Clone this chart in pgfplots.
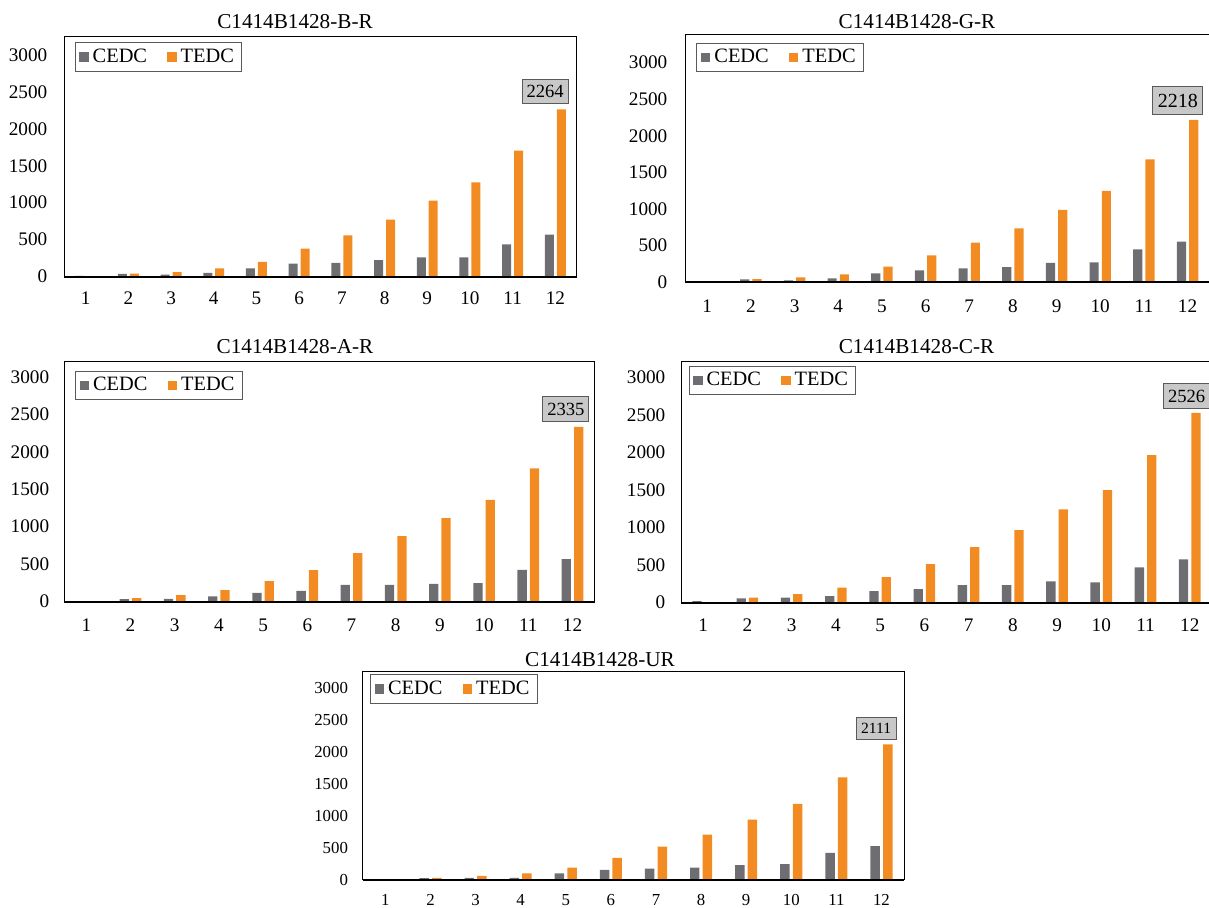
\documentclass[border=0pt]{standalone}
\usepackage{fontspec}
\setmainfont{Liberation Serif}
\usepackage{pgfplots}
\pgfplotsset{compat=1.18}
\definecolor{cgray}{RGB}{110,110,114}
\definecolor{corange}{RGB}{242,140,34}
\definecolor{lblfill}{RGB}{200,200,200}
\definecolor{lbldraw}{RGB}{90,90,90}
\pgfplotsset{
  panel/.style={
    scale only axis, ybar, ymin=0, xmin=0.5, xmax=12.5,
    xtick={1,...,12}, ytick={0,500,...,3000},
    major tick length=0pt,
    axis line style={line width=0.5pt, black},
    tick label style={font=\fontsize{9.6}{11}\selectfont},
    xticklabel style={text height=6.5pt, text depth=0pt},
    /pgf/number format/assume math mode=true,
    /pgf/number format/set thousands separator={},
    bar width=0.21,
    legend columns=2,
    legend style={at={(0,1)}, anchor=north west, draw=lbldraw, line width=0.5pt,
      font=\fontsize{10.2}{12}\selectfont, inner xsep=2pt, inner ysep=1pt,
      /tikz/every even column/.append style={column sep=8pt}},
    legend image code/.code={\fill[##1,draw=none] (0pt,-2.4pt) rectangle (4.8pt,2.4pt);},
    clip=false,
  },
}
\tikzset{
  lbl/.style={draw=lbldraw, fill=lblfill, line width=0.5pt, anchor=south,
    font=\fontsize{9.3}{11}\selectfont, inner xsep=2.2pt, inner ysep=3pt},
}
\newcommand\bottomline{\draw[line width=1pt, black] (rel axis cs:0,0) -- (rel axis cs:1,0);}
\begin{document}
\begin{tikzpicture}
\path[use as bounding box] (0,0) rectangle (604.5pt,453.5pt);

% ---------- Panel 1: B-R ----------
\begin{axis}[panel, at={(32.15pt,315.25pt)}, anchor=south west,
  width=256.2pt, height=120.25pt, ymax=3257,
  xticklabel style={yshift=-3.8pt}, yticklabel style={xshift=-5pt},
  legend style={xshift=5.15pt, yshift=-3pt}]
\addplot[fill=cgray, draw=none, bar shift=-0.14] coordinates {(1,8) (2,36) (3,27) (4,50) (5,109) (6,176) (7,186) (8,222) (9,258) (10,258) (11,434) (12,566)};
\addplot[fill=corange, draw=none, bar shift=0.14] coordinates {(1,3) (2,40) (3,59) (4,109) (5,199) (6,376) (7,557) (8,769) (9,1027) (10,1276) (11,1706) (12,2264)};
\legend{CEDC,TEDC}
\bottomline
\node[lbl, yshift=2.6pt] at (axis cs:11.76,2264) {2264};
\end{axis}
\node[anchor=base, font=\fontsize{10.6}{12}\selectfont] at (147.5pt,439.3pt) {C1414B1428-B-R};

% ---------- Panel 2: G-R ----------
\begin{axis}[panel, at={(342.7pt,312.5pt)}, anchor=south west,
  width=262pt, height=123.5pt, ymax=3379,
  xticklabel style={yshift=-5.1pt}, yticklabel style={xshift=-5.5pt},
  legend style={xshift=5.45pt, yshift=-3.85pt}]
\addplot[fill=cgray, draw=none, bar shift=-0.14] coordinates {(1,0) (2,36) (3,23) (4,50) (5,118) (6,160) (7,187) (8,205) (9,260) (10,269) (11,447) (12,552)};
\addplot[fill=corange, draw=none, bar shift=0.14] coordinates {(1,0) (2,41) (3,64) (4,105) (5,210) (6,365) (7,538) (8,734) (9,985) (10,1245) (11,1678) (12,2218)};
\legend{CEDC,TEDC}
\bottomline
\node[lbl, yshift=2.45pt, font=\fontsize{10}{12}\selectfont, inner ysep=3.6pt, inner xsep=2.5pt] at (axis cs:11.78,2218) {2218};
\end{axis}
\node[anchor=base, font=\fontsize{10.6}{12}\selectfont] at (458.5pt,439.2pt) {C1414B1428-G-R};

% ---------- Panel 3: A-R ----------
\begin{axis}[panel, at={(32.1pt,152.75pt)}, anchor=south west,
  width=265.2pt, height=119.9pt, ymax=3206,
  xticklabel style={yshift=-4.85pt}, yticklabel style={xshift=-4pt},
  legend style={xshift=5.4pt, yshift=-4.5pt}]
\addplot[fill=cgray, draw=none, bar shift=-0.14] coordinates {(1,0) (2,31) (3,36) (4,67) (5,116) (6,143) (7,223) (8,223) (9,236) (10,245) (11,424) (12,566)};
\addplot[fill=corange, draw=none, bar shift=0.14] coordinates {(1,0) (2,45) (3,85) (4,152) (5,272) (6,419) (7,646) (8,874) (9,1115) (10,1360) (11,1779) (12,2335)};
\legend{CEDC,TEDC}
\bottomline
\node[lbl, yshift=2.5pt] at (axis cs:11.85,2335) {2335};
\end{axis}
\node[anchor=base, font=\fontsize{10.6}{12}\selectfont] at (147.5pt,276.75pt) {C1414B1428-A-R};

% ---------- Panel 4: C-R ----------
\begin{axis}[panel, at={(340.5pt,152.15pt)}, anchor=south west,
  width=265.45pt, height=120.5pt, ymax=3208,
  xticklabel style={yshift=-4.25pt}, yticklabel style={xshift=-4.3pt},
  legend style={xshift=3.75pt, yshift=-2pt}]
\addplot[fill=cgray, draw=none, bar shift=-0.14] coordinates {(1,22) (2,58) (3,67) (4,89) (5,155) (6,182) (7,235) (8,235) (9,284) (10,271) (11,470) (12,577)};
\addplot[fill=corange, draw=none, bar shift=0.14] coordinates {(1,6) (2,67) (3,115) (4,200) (5,342) (6,515) (7,741) (8,967) (9,1243) (10,1500) (11,1966) (12,2526)};
\legend{CEDC,TEDC}
\bottomline
\node[lbl, yshift=2pt] at (axis cs:11.93,2526) {2526};
\end{axis}
\node[anchor=base, font=\fontsize{10.6}{12}\selectfont] at (458.25pt,276.75pt) {C1414B1428-C-R};

% ---------- Panel 5: UR ----------
\begin{axis}[panel, at={(181.4pt,13.75pt)}, anchor=south west,
  width=270.6pt, height=104.25pt, ymax=3258,
  tick label style={font=\fontsize{8.4}{10}\selectfont},
  xticklabel style={yshift=-3.8pt, text height=5.7pt}, yticklabel style={xshift=-3.9pt},
  legend style={xshift=3.6pt, yshift=-1.65pt}]
\addplot[fill=cgray, draw=none, bar shift=-0.14] coordinates {(1,0) (2,21) (3,26) (4,26) (5,94) (6,151) (7,172) (8,187) (9,224) (10,239) (11,416) (12,520)};
\addplot[fill=corange, draw=none, bar shift=0.14] coordinates {(1,0) (2,26) (3,57) (4,94) (5,187) (6,338) (7,515) (8,702) (9,936) (10,1180) (11,1596) (12,2111)};
\legend{CEDC,TEDC}
\bottomline
\node[lbl, yshift=2.2pt, font=\fontsize{7.8}{9}\selectfont, inner xsep=2.5pt, inner ysep=3pt] at (axis cs:11.88,2111) {2111};
\end{axis}
\node[anchor=base, font=\fontsize{10.6}{12}\selectfont] at (300pt,120.5pt) {C1414B1428-UR};
\end{tikzpicture}
\end{document}
